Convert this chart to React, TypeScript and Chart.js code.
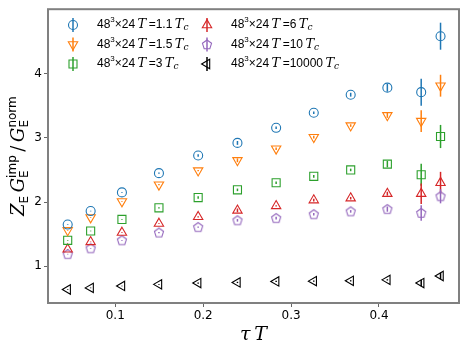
import { useEffect, useRef } from 'react';
import { Chart, registerables } from 'chart.js';
Chart.register(...registerables);

// ---- data ----
const tauT = [0.0459, 0.072, 0.1076, 0.1497, 0.1943, 0.239, 0.283, 0.3258, 0.3678, 0.4095, 0.448, 0.470];
const xTicks = [0.1, 0.2, 0.3, 0.4];
const yTicks = [1, 2, 3, 4];

const y11 = [1.65, 1.86, 2.15, 2.45, 2.725, 2.92, 3.155, 3.39, 3.67, 3.78, 3.71, 4.58];
const e11 = [0.005, 0.005, 0.005, 0.01, 0.02, 0.03, 0.02, 0.02, 0.03, 0.06, 0.21, 0.21];
const y15 = [1.56, 1.76, 2.01, 2.27, 2.49, 2.65, 2.83, 3.01, 3.19, 3.35, 3.26, 3.81];
const e15 = [0.005, 0.005, 0.005, 0.01, 0.01, 0.03, 0.02, 0.02, 0.02, 0.04, 0.17, 0.17];
const y3 = [1.405, 1.55, 1.73, 1.91, 2.07, 2.19, 2.3, 2.4, 2.5, 2.59, 2.425, 3.02];
const e3 = [0.005, 0.005, 0.005, 0.01, 0.02, 0.02, 0.02, 0.02, 0.02, 0.05, 0.17, 0.18];
const y6 = [1.265, 1.38, 1.525, 1.665, 1.77, 1.87, 1.94, 2.03, 2.06, 2.13, 2.13, 2.3];
const e6 = [0.005, 0.005, 0.005, 0.005, 0.01, 0.03, 0.01, 0.02, 0.02, 0.03, 0.16, 0.17];
const y10 = [1.19, 1.28, 1.405, 1.525, 1.61, 1.716, 1.75, 1.81, 1.855, 1.89, 1.83, 2.09];
const e10 = [0.005, 0.005, 0.005, 0.01, 0.01, 0.02, 0.02, 0.02, 0.02, 0.04, 0.12, 0.11];
const y10000 = [0.64, 0.665, 0.695, 0.72, 0.74, 0.75, 0.765, 0.77, 0.775, 0.79, 0.74, 0.85];
const e10000 = [0.005, 0.005, 0.005, 0.005, 0.01, 0.01, 0.01, 0.01, 0.01, 0.01, 0.05, 0.05];

const labels = ['1.1', '1.5', '3', '6', '10', '10000'];

const SANS = '"DejaVu Sans", sans-serif';
const LSANS = '"Liberation Sans", sans-serif';
const SERIF = '"DejaVu Serif", serif';

function pentagon(color: string) {
  const c = document.createElement('canvas');
  c.width = 14; c.height = 14;
  const g = c.getContext('2d')!;
  g.strokeStyle = color; g.lineWidth = 1.1;
  g.beginPath();
  for (let i = 0; i < 5; i++) {
    const a = -Math.PI / 2 + (i * 2 * Math.PI) / 5;
    const px = 7 + 4.8 * Math.cos(a), py = 7.3 + 4.8 * Math.sin(a);
    if (i === 0) g.moveTo(px, py); else g.lineTo(px, py);
  }
  g.closePath(); g.stroke();
  return c;
}

type Part = { t: string; f: string; dy?: number; sup?: string; sub?: string; sf?: string; supDy?: number; subDy?: number };

function partsWidth(ctx: CanvasRenderingContext2D, parts: Part[]) {
  let w = 0;
  for (const p of parts) {
    if (p.sup !== undefined || p.sub !== undefined) {
      ctx.font = p.sf!;
      w += Math.max(ctx.measureText(p.sup || '').width, ctx.measureText(p.sub || '').width);
    } else {
      ctx.font = p.f; w += ctx.measureText(p.t).width;
    }
  }
  return w;
}

function drawParts(ctx: CanvasRenderingContext2D, x: number, y: number, parts: Part[]) {
  let cx = x;
  for (const p of parts) {
    if (p.sup !== undefined || p.sub !== undefined) {
      ctx.font = p.sf!;
      if (p.sup) ctx.fillText(p.sup, cx, y + (p.supDy || 0));
      if (p.sub) ctx.fillText(p.sub, cx, y + (p.subDy || 0));
      cx += Math.max(ctx.measureText(p.sup || '').width, ctx.measureText(p.sub || '').width);
    } else {
      ctx.font = p.f;
      ctx.fillText(p.t, cx, y + (p.dy || 0));
      cx += ctx.measureText(p.t).width;
    }
  }
}

function legendParts(v: string): Part[] {
  const n = `12px ${LSANS}`;
  const it = `italic 13px ${SERIF}`;
  return [
    { t: '48', f: n },
    { t: '3', f: `8px ${LSANS}`, dy: -5 },
    { t: '\u00d7', f: n },
    { t: '24\u2009', f: n },
    { t: 'T', f: it },
    { t: '\u2009=' + v + '\u2009', f: n },
    { t: 'T', f: it },
    { t: 'c', f: `italic 9px ${SERIF}`, dy: 3 },
  ];
}

function drawMarker(ctx: CanvasRenderingContext2D, kind: string, color: string, x: number, y: number) {
  ctx.save();
  ctx.strokeStyle = color; ctx.lineWidth = 1.1;
  ctx.beginPath();
  const tri = (rot: number, r: number) => {
    for (let i = 0; i < 3; i++) {
      const a = rot + (i * 2 * Math.PI) / 3;
      const px = x + r * Math.sin(a), py = y - r * Math.cos(a);
      if (i === 0) ctx.moveTo(px, py); else ctx.lineTo(px, py);
    }
    ctx.closePath();
  };
  if (kind === 'circle') ctx.arc(x, y, 4.5, 0, Math.PI * 2);
  else if (kind === 'down') tri(Math.PI, 5.4);
  else if (kind === 'up') tri(0, 5.4);
  else if (kind === 'left') tri(-Math.PI / 2, 5.4);
  else if (kind === 'rect') ctx.rect(x - 4, y - 4, 8, 8);
  else if (kind === 'pent') {
    for (let i = 0; i < 5; i++) {
      const a = -Math.PI / 2 + (i * 2 * Math.PI) / 5;
      const px = x + 4.8 * Math.cos(a), py = y + 0.3 + 4.8 * Math.sin(a);
      if (i === 0) ctx.moveTo(px, py); else ctx.lineTo(px, py);
    }
    ctx.closePath();
  }
  ctx.stroke();
  ctx.lineWidth = 1.5;
  ctx.beginPath(); ctx.moveTo(x, y - 7); ctx.lineTo(x, y + 7); ctx.stroke();
  ctx.restore();
}

export default function App() {
  const ref = useRef<HTMLCanvasElement>(null);
  useEffect(() => {
    const colors = ['#1f77b4', '#ff7f0e', '#2ca02c', '#d62728', '#9467bd', '#000000'];
    const ys = [y11, y15, y3, y6, y10, y10000];
    const es = [e11, e15, e3, e6, e10, e10000];
    const kinds = ['circle', 'down', 'rect', 'up', 'pent', 'left'];
    const styles: any[] = ['circle', 'triangle', 'rect', 'triangle', pentagon(colors[4]), 'triangle'];
    const rots = [0, 180, 0, 0, 0, -90];
    const radii = [4.5, 5.4, 5.7, 5.4, 5, 5.4];

    const datasets = ys.map((arr, i) => ({
      label: labels[i],
      data: arr.map((v, j) => ({ x: tauT[j], y: v })),
      errs: es[i],
      pointStyle: styles[i],
      rotation: rots[i],
      pointRadius: radii[i],
      pointBorderWidth: 1.1,
      borderColor: colors[i],
      backgroundColor: 'rgba(0,0,0,0)',
      pointBackgroundColor: 'rgba(0,0,0,0)',
      showLine: false,
    }));

    const deco = {
      id: 'deco',
      beforeDatasetsDraw(chart: any) {
        const ctx = chart.ctx as CanvasRenderingContext2D;
        const xs = chart.scales.x, yS = chart.scales.y;
        ctx.save();
        chart.data.datasets.forEach((ds: any, i: number) => {
          ctx.strokeStyle = colors[i];
          ctx.lineWidth = 1.5;
          ds.data.forEach((p: any, j: number) => {
            const e = ds.errs[j];
            const px = xs.getPixelForValue(p.x);
            ctx.beginPath();
            ctx.moveTo(px, yS.getPixelForValue(p.y - e));
            ctx.lineTo(px, yS.getPixelForValue(p.y + e));
            ctx.stroke();
          });
        });
        ctx.restore();
      },
      afterDraw(chart: any) {
        const ctx = chart.ctx as CanvasRenderingContext2D;
        const a = chart.chartArea;
        ctx.save();
        ctx.strokeStyle = '#808080';
        ctx.lineWidth = 2;
        ctx.strokeRect(a.left, a.top, a.right - a.left, a.bottom - a.top);

        // legend
        ctx.fillStyle = '#000';
        ctx.textBaseline = 'middle';
        ctx.textAlign = 'left';
        const rowsY = [25, 44.5, 64];
        for (let i = 0; i < 6; i++) {
          const col = i < 3 ? 0 : 1;
          const row = i % 3;
          const mx = col === 0 ? 73 : 207;
          const tx = col === 0 ? 97 : 231;
          drawMarker(ctx, kinds[i], colors[i], mx, rowsY[row]);
          drawParts(ctx, tx, rowsY[row], legendParts(labels[i]));
        }

        // x title
        const xParts: Part[] = [
          { t: '\u03c4', f: `italic 19px ${SERIF}` },
          { t: '\u2009', f: `19px ${SERIF}` },
          { t: 'T', f: `italic 19px ${SERIF}` },
        ];
        const xw = partsWidth(ctx, xParts);
        ctx.textBaseline = 'alphabetic';
        drawParts(ctx, (a.left + a.right) / 2 - xw / 2, 340, xParts);

        // y title
        const big = `italic 18px ${SERIF}`;
        const sm = `12px ${SANS}`;
        const yParts: Part[] = [
          { t: 'Z', f: big },
          { t: 'E', f: sm, dy: 4 },
          { t: '\u2009', f: big },
          { t: 'G', f: big },
          { t: '', f: sm, sf: sm, sup: 'imp', sub: 'E', supDy: -8, subDy: 4 },
          { t: '\u2009/\u2009', f: `18px ${SERIF}` },
          { t: 'G', f: big },
          { t: '', f: sm, sf: sm, sup: 'norm', sub: 'E', supDy: -8, subDy: 4 },
        ];
        const yw = partsWidth(ctx, yParts);
        ctx.translate(24, (a.top + a.bottom) / 2);
        ctx.rotate(-Math.PI / 2);
        drawParts(ctx, -yw / 2, 0, yParts);
        ctx.restore();
      },
    };

    const chart = new Chart(ref.current!, {
      type: 'scatter',
      data: { datasets: datasets as any },
      options: {
        animation: false,
        responsive: true,
        maintainAspectRatio: false,
        layout: { padding: { top: 8, right: 10, left: 0, bottom: 0 } },
        plugins: { legend: { display: false }, tooltip: { enabled: false } },
        scales: {
          x: {
            type: 'linear',
            min: 0.0235,
            max: 0.491,
            afterBuildTicks: (s: any) => { s.ticks = xTicks.map((v) => ({ value: v })); },
            afterFit: (s: any) => { s.height = 49; },
            ticks: {
              color: '#000',
              font: { family: SANS, size: 12 },
              padding: 2,
              callback: (v: any) => Number(v).toFixed(1),
            },
            grid: { drawOnChartArea: false, drawTicks: true, tickLength: 4, color: '#666' },
            border: { display: false },
          },
          y: {
            type: 'linear',
            min: 0.43,
            max: 5.0,
            afterBuildTicks: (s: any) => { s.ticks = yTicks.map((v) => ({ value: v })); },
            afterFit: (s: any) => { s.width = 48; },
            ticks: {
              color: '#000',
              font: { family: SANS, size: 12 },
              padding: 2,
              callback: (v: any) => String(v),
            },
            grid: { drawOnChartArea: false, drawTicks: true, tickLength: 4, color: '#666' },
            border: { display: false },
          },
        },
      },
      plugins: [deco],
    });
    return () => chart.destroy();
  }, []);

  return (
    <div style={{ position: 'fixed', left: 0, top: 0, width: 469, height: 352, background: '#fff' }}>
      <canvas ref={ref} />
    </div>
  );
}
